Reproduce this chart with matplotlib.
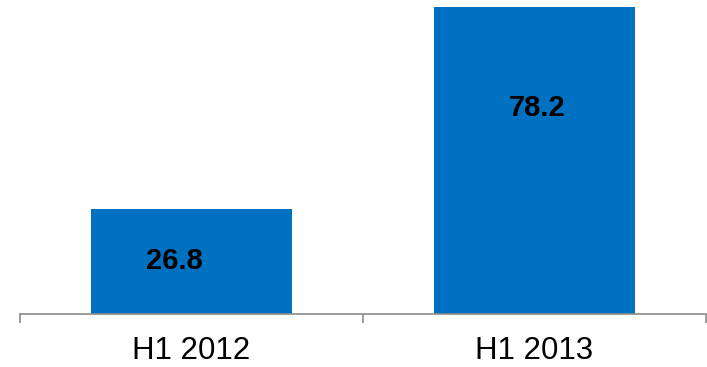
import matplotlib
matplotlib.use("Agg")
import matplotlib.pyplot as plt

# data
categories = ["H1 2012", "H1 2013"]
values = [26.8, 78.2]

# label placement (fraction of bar height, x offset in points)
label_frac = [0.5, 0.67]
label_dx = [-12, 2]

plt.rcParams["font.family"] = ["Liberation Sans", "DejaVu Sans"]

fig = plt.figure(figsize=(7.07, 3.67), dpi=100)
ax = fig.add_axes([20 / 707, (367 - 314) / 367, 686 / 707, 314 / 367])

x = list(range(len(categories)))
ax.bar(x, values, width=0.586, color="#0070C0", zorder=2)

for xi, v, f, dx in zip(x, values, label_frac, label_dx):
    ax.annotate(f"{v:.1f}", (xi, v * f), xytext=(dx, 0), textcoords="offset points",
                ha="center", va="center", fontsize=21, fontweight="bold", color="black")

ax.set_xlim(-0.5, len(categories) - 0.5)
ax.set_ylim(0, 80)

for side in ["top", "right", "left"]:
    ax.spines[side].set_visible(False)
ax.spines["bottom"].set_color("#8C8C8C")
ax.spines["bottom"].set_linewidth(1.2)
ax.spines["bottom"].set_zorder(3)

ax.set_yticks([])
ax.set_xticks(x)
ax.set_xticklabels(categories, fontsize=22.5)
ax.tick_params(axis="x", which="major", length=0, pad=16)
ax.set_xticks([i - 0.5 for i in range(len(categories) + 1)], minor=True)
ax.tick_params(axis="x", which="minor", length=6.5, width=1.2, color="#8C8C8C")

fig.savefig("out.png", dpi=100)
